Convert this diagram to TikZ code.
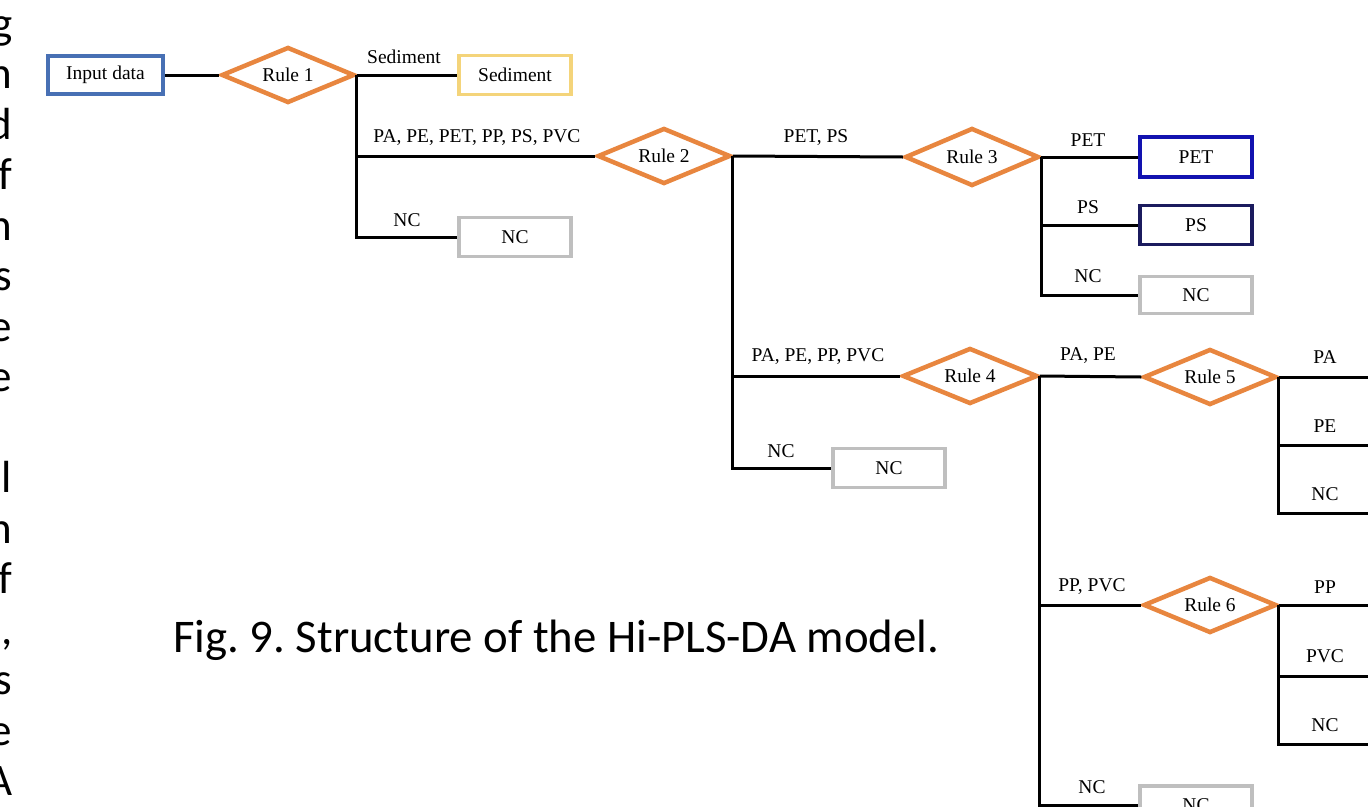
\documentclass[tikz,border=0pt]{standalone}
\usepackage{fontspec}
\setmainfont{Liberation Serif}
\newfontfamily\capfont{Carlito}
\usetikzlibrary{shapes.geometric}
\definecolor{inblue}{HTML}{4870B4}
\definecolor{sedyel}{HTML}{F4D47A}
\definecolor{petblue}{HTML}{1212B0}
\definecolor{psnavy}{HTML}{1B1B5E}
\definecolor{ncgrey}{HTML}{BFBFBF}
\definecolor{ruleor}{HTML}{E8863F}
\tikzset{
  txt/.style={font=\rmfamily\fontsize{19.5}{22}\selectfont},
  lbl/.style={txt, inner sep=0pt},
  leaf/.style={draw, line width=3.5pt, minimum width=112pt, minimum height=39pt, inner sep=0pt, txt, fill=white},
  rulebox/.style={diamond, aspect=2.375, draw=ruleor, line width=4.5pt, minimum width=133pt, minimum height=56pt, inner sep=0pt, txt, fill=white},
  conn/.style={line width=3pt, black},
  sidetxt/.style={font=\capfont\fontsize{45}{50}\selectfont, inner sep=0pt, anchor=base east},
}
\begin{document}
\frenchspacing
\begin{tikzpicture}[x=1pt,y=-1pt]
\useasboundingbox (0,0) rectangle (1368,806);
\fill[white] (0,0) rectangle (1368,806);
\clip (0,0) rectangle (1368,806);

% cropped paragraph text at left edge
\foreach \i/\c in {0/g,1/n,2/d,3/f,4/n,5/s,6/e,7/e,9/l,10/n,11/f,13/s,14/e,15/A}
  \node[sidetxt] (side\i) at (12.5,{38+50.5*\i}) {\c};
\node[sidetxt] (side12) at (12.5,{38+50.5*12}) {,};

% caption
\node[font=\capfont\fontsize{46.8}{50}\selectfont, inner sep=0pt, anchor=base west] (cap) at (173,652) {Fig. 9. Structure of the Hi-PLS-DA model.};

% nodes
\node[leaf, draw=inblue, minimum width=115pt, minimum height=38pt] (inp) at (105.5,75) {Input data};
\node[rulebox] (r1) at (288,75) {Rule 1};
\node[leaf, draw=sedyel] (sed) at (515,75) {Sediment};
\node[leaf, draw=ncgrey] (nc1) at (515,237) {NC};
\node[rulebox] (r2) at (664,156) {Rule 2};
\node[rulebox, minimum width=134pt, minimum height=58pt] (r3) at (972,157) {Rule 3};
\node[leaf, draw=petblue, minimum height=40pt] (pet) at (1196,157) {PET};
\node[leaf, draw=psnavy] (ps) at (1196,225) {PS};
\node[leaf, draw=ncgrey, minimum height=37pt] (nc2) at (1196,295) {NC};
\node[rulebox, minimum width=135pt] (r4) at (970,376) {Rule 4};
\node[leaf, draw=ncgrey] (nc3) at (889,468) {NC};
\node[rulebox] (r5) at (1210,377) {Rule 5};
\node[rulebox] (r6) at (1210,605) {Rule 6};
\node[leaf, draw=ncgrey, minimum height=38pt] (nc4) at (1196,805) {NC};

% free ends at the right edge
\coordinate (paend) at (1380,377);
\coordinate (peend) at (1380,445);
\coordinate (nc5end) at (1380,513);
\coordinate (ppend) at (1380,605);
\coordinate (pvcend) at (1380,676);
\coordinate (nc6end) at (1380,744);

% connectors
\draw[conn] (inp.east) -- (r1.west);
\draw[conn] (r1.east) -- (sed.west);
\draw[conn] (r1.east) |- (r2.west);
\draw[conn] (r1.east) |- (nc1.west);
\draw[conn] (r2.east) -- (r3.west);
\draw[conn] (r2.east) |- (r4.west);
\draw[conn] (r2.east) |- (nc3.west);
\draw[conn] (r3.east) -- (pet.west);
\draw[conn] (r3.east) |- (ps.west);
\draw[conn] (r3.east) |- (nc2.west);
\draw[conn] (r4.east) -- (r5.west);
\draw[conn] (r4.east) |- (r6.west);
\draw[conn] (r4.east) |- (nc4.west);
\draw[conn] (r5.east) -- (paend);
\draw[conn] (r5.east) |- (peend);
\draw[conn] (r5.east) |- (nc5end);
\draw[conn] (r6.east) -- (ppend);
\draw[conn] (r6.east) |- (pvcend);
\draw[conn] (r6.east) |- (nc6end);

% branch labels
\node[lbl] (l1) at (404,57) {Sediment};
\node[lbl] (l2) at (477,138) {PA, PE, PET, PP, PS, PVC};
\node[lbl] (l3) at (407,220) {NC};
\node[lbl] (l4) at (816,138) {PET, PS};
\node[lbl] (l5) at (1088,140) {PET};
\node[lbl] (l6) at (1088,207) {PS};
\node[lbl] (l7) at (1088,276) {NC};
\node[lbl] (l8) at (818,357) {PA, PE, PP, PVC};
\node[lbl] (l9) at (781,451) {NC};
\node[lbl] (l10) at (1088,356) {PA, PE};
\node[lbl] (l11) at (1092,587) {PP, PVC};
\node[lbl] (l12) at (1092,787) {NC};
\node[lbl] (l13) at (1325,357) {PA};
\node[lbl] (l14) at (1325,426) {PE};
\node[lbl] (l15) at (1325,494) {NC};
\node[lbl] (l16) at (1325,587) {PP};
\node[lbl] (l17) at (1325,656) {PVC};
\node[lbl] (l18) at (1325,725) {NC};
\end{tikzpicture}
\end{document}
